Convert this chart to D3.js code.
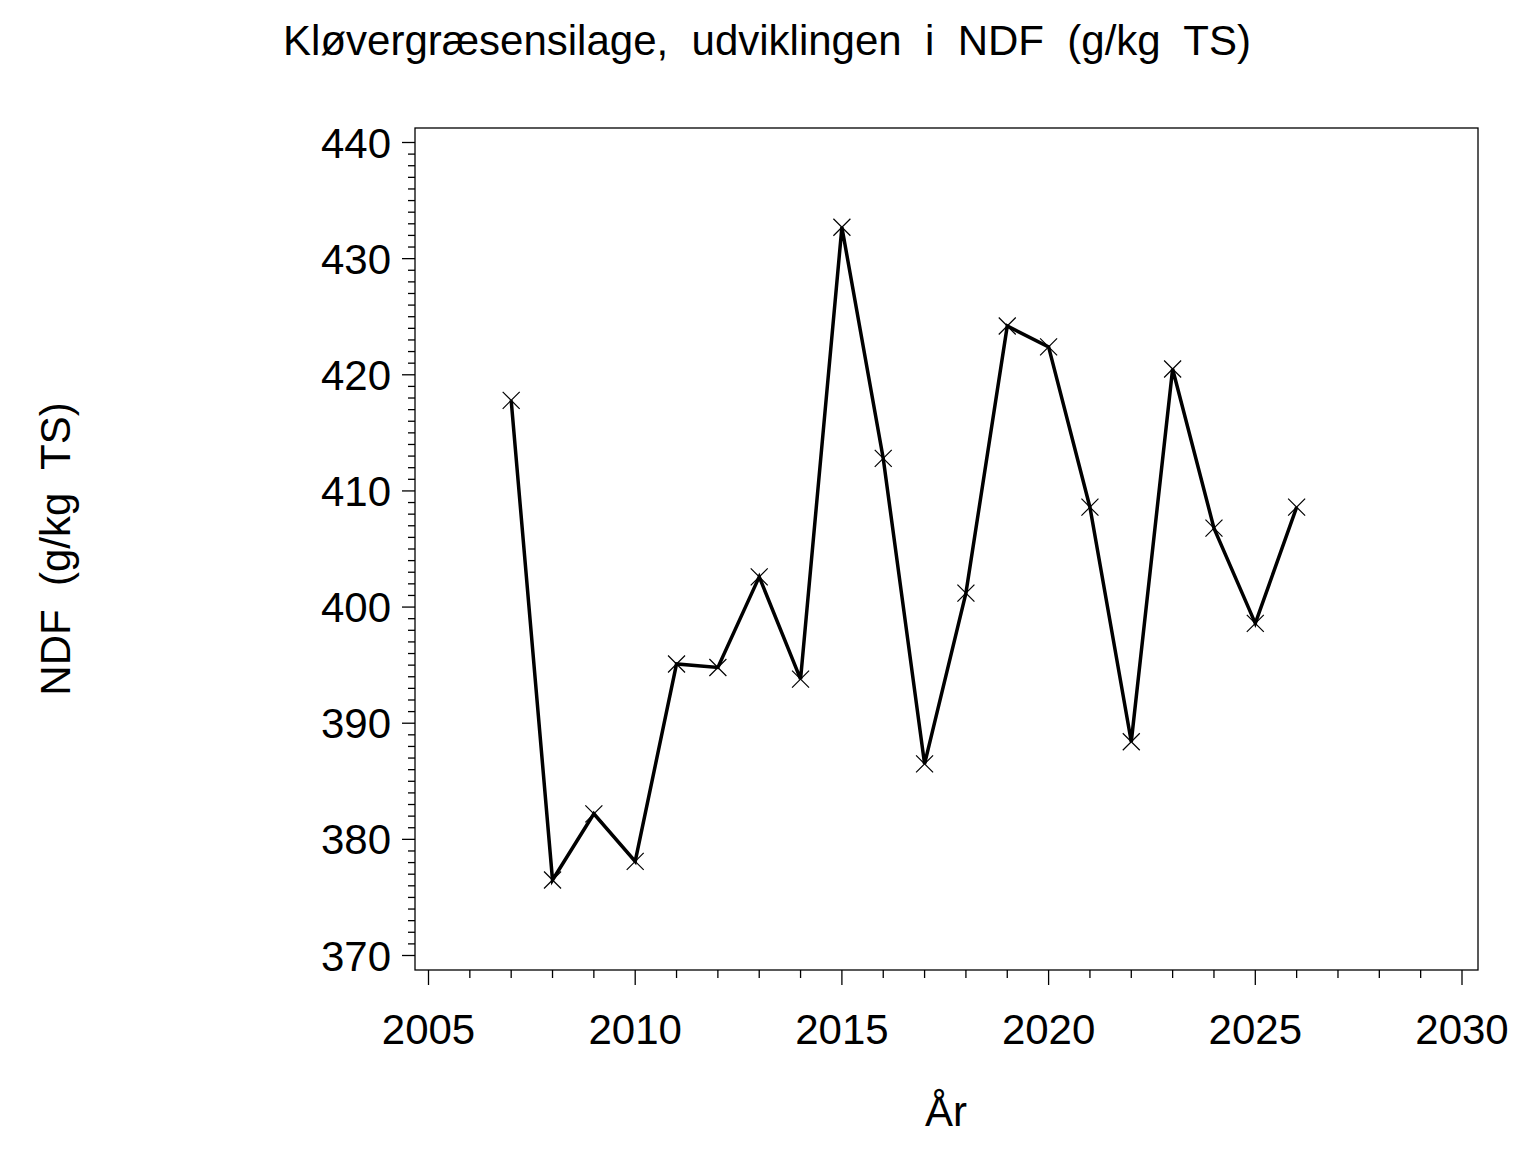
<!DOCTYPE html>
<html>
  <head>
    <meta charset="utf-8">
    <title>Kløvergræsensilage NDF</title>
    <script src="https://cdn.jsdelivr.net/npm/d3@7"></script>
    <style>
      body { margin: 0; background: #fff; }
      svg text { font-family: "Liberation Sans", Arial, sans-serif; fill: #000; white-space: pre; }
      .axis path, .axis line { stroke: #000; stroke-width: 1.3; }
    </style>
  </head>
  <body>
    <svg id="chart" width="1536" height="1152"></svg>

    <script>
      // data
      const years = [2007, 2008, 2009, 2010, 2011, 2012, 2013, 2014, 2015, 2016,
                     2017, 2018, 2019, 2020, 2021, 2022, 2023, 2024, 2025, 2026];
      const ndf = [417.8, 376.5, 382.2, 378.1, 395.1, 394.8, 402.6, 393.8, 432.7, 412.8,
                   386.5, 401.2, 424.2, 422.4, 408.6, 388.4, 420.5, 406.8, 398.6, 408.6];
      const xTicks = [2005, 2010, 2015, 2020, 2025, 2030];
      const yTicks = [370, 380, 390, 400, 410, 420, 430, 440];

      const chart = d3.select("#chart");
      const frame = { left: 415, right: 1478, top: 128, bottom: 970 };
      const fontSize = 42;

      const x = d3.scaleLinear().domain([2005, 2030]).range([428.5, 1462]);
      const y = d3.scaleLinear().domain([370, 440]).range([955.5, 142.5]);

      // frame
      chart.append("rect")
        .attr("x", frame.left)
        .attr("y", frame.top)
        .attr("width", frame.right - frame.left)
        .attr("height", frame.bottom - frame.top)
        .attr("fill", "none")
        .attr("stroke", "#000")
        .attr("stroke-width", 1.3);

      // y axis: minor ticks every unit, major every 10
      const yAxis = chart.append("g").attr("class", "axis");
      yAxis.selectAll(".minor")
        .data(d3.range(370, 441).filter(v => v % 10 != 0))
        .join("line")
          .attr("x1", frame.left - 7).attr("x2", frame.left)
          .attr("y1", d => y(d)).attr("y2", d => y(d));
      yAxis.selectAll(".major")
        .data(yTicks)
        .join("line")
          .attr("x1", frame.left - 13).attr("x2", frame.left)
          .attr("y1", d => y(d)).attr("y2", d => y(d));
      yAxis.selectAll("text")
        .data(yTicks)
        .join("text")
          .attr("x", frame.left - 24)
          .attr("y", d => y(d) + 15)
          .attr("text-anchor", "end")
          .attr("font-size", fontSize)
          .text(d => d);

      // x axis: minor ticks every year, major every 5
      const xAxis = chart.append("g").attr("class", "axis");
      xAxis.selectAll(".minor")
        .data(d3.range(2005, 2031).filter(v => v % 5 != 0))
        .join("line")
          .attr("x1", d => x(d)).attr("x2", d => x(d))
          .attr("y1", frame.bottom).attr("y2", frame.bottom + 8);
      xAxis.selectAll(".major")
        .data(xTicks)
        .join("line")
          .attr("x1", d => x(d)).attr("x2", d => x(d))
          .attr("y1", frame.bottom).attr("y2", frame.bottom + 15);
      xAxis.selectAll("text")
        .data(xTicks)
        .join("text")
          .attr("x", d => x(d))
          .attr("y", 1044)
          .attr("text-anchor", "middle")
          .attr("font-size", fontSize)
          .text(d => d);

      // labels
      chart.append("text")
        .attr("x", 767).attr("y", 55)
        .attr("text-anchor", "middle")
        .attr("font-size", fontSize)
        .text("Kløvergræsensilage,  udviklingen  i  NDF  (g/kg  TS)");
      chart.append("text")
        .attr("x", 946).attr("y", 1126)
        .attr("text-anchor", "middle")
        .attr("font-size", fontSize)
        .text("År");
      chart.append("text")
        .attr("transform", "translate(70, 549) rotate(-90)")
        .attr("text-anchor", "middle")
        .attr("font-size", fontSize)
        .text("NDF  (g/kg  TS)");

      // series
      const points = years.map((yr, i) => ({ year: yr, value: ndf[i] }));
      chart.append("path")
        .datum(points)
        .attr("fill", "none")
        .attr("stroke", "#000")
        .attr("stroke-width", 3.5)
        .attr("stroke-linejoin", "miter")
        .attr("d", d3.line().x(d => x(d.year)).y(d => y(d.value)));

      const s = 8.5;
      chart.append("g")
        .selectAll("path")
        .data(points)
        .join("path")
          .attr("fill", "none")
          .attr("stroke", "#000")
          .attr("stroke-width", 1.2)
          .attr("d", d => {
            const cx = x(d.year), cy = y(d.value);
            return `M${cx - s},${cy - s}L${cx + s},${cy + s}M${cx - s},${cy + s}L${cx + s},${cy - s}`;
          });
    </script>
  </body>
</html>
